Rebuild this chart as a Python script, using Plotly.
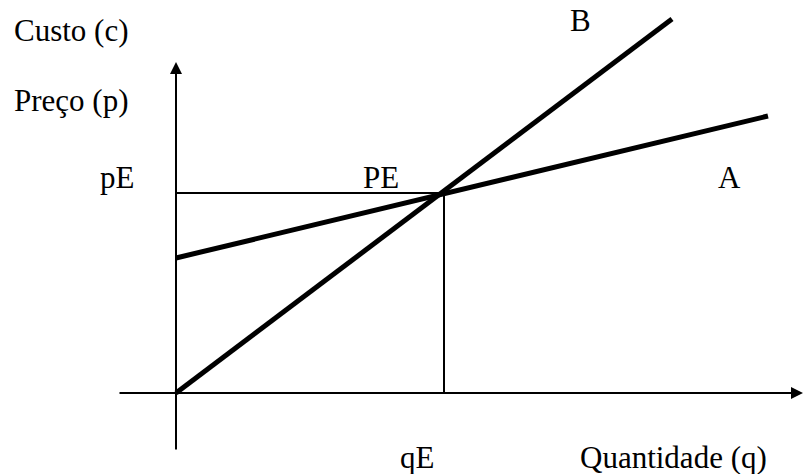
import plotly.graph_objects as go

# Data (units roughly proportional to picture)
q_B = [0, 496]
c_B = [0, 374]
q_A = [0, 592]
c_A = [135, 277]
qE = 268
pE = 200

# axis extents
x_axis = [-58, 627]
y_axis = [-58, 331]

fig = go.Figure()
FONT = dict(family="Liberation Serif, Times New Roman, serif", size=31, color="black")

# thin guide lines for equilibrium
fig.add_trace(go.Scatter(x=[0, qE], y=[pE, pE], mode="lines",
                         line=dict(color="black", width=2), hoverinfo="skip"))
fig.add_trace(go.Scatter(x=[qE, qE], y=[pE, 0], mode="lines",
                         line=dict(color="black", width=2), hoverinfo="skip"))
# main lines
fig.add_trace(go.Scatter(x=q_A, y=c_A, mode="lines",
                         line=dict(color="black", width=5), hoverinfo="skip"))
fig.add_trace(go.Scatter(x=q_B, y=c_B, mode="lines",
                         line=dict(color="black", width=5), hoverinfo="skip"))

annotations = []
# axes with arrows
annotations.append(dict(x=0, y=y_axis[1], ax=0, ay=y_axis[0], xref="x", yref="y",
                        axref="x", ayref="y", text="", showarrow=True,
                        arrowhead=2, arrowsize=1.2, arrowwidth=2, arrowcolor="black", standoff=0))
annotations.append(dict(x=x_axis[1], y=0, ax=x_axis[0], ay=0, xref="x", yref="y",
                        axref="x", ayref="y", text="", showarrow=True,
                        arrowhead=2, arrowsize=1.2, arrowwidth=2, arrowcolor="black", standoff=0))

labels = [
    ("Custo (c)", -164, 363, "left"),
    ("Preço (p)", -164, 293, "left"),
    ("pE", -59, 216, "center"),
    ("PE", 205, 216, "center"),
    ("A", 553, 216, "center"),
    ("B", 404, 373, "center"),
    ("qE", 241, -64, "center"),
    ("Quantidade (q)", 497, -64, "center"),
]
for txt, x, y, anc in labels:
    annotations.append(dict(x=x, y=y, xref="x", yref="y", text=txt, showarrow=False,
                            xanchor=anc, yanchor="middle", font=FONT))

fig.update_layout(
    width=805, height=474,
    margin=dict(l=0, r=0, t=0, b=0),
    paper_bgcolor="white", plot_bgcolor="white",
    showlegend=False,
    annotations=annotations,
    xaxis=dict(range=[-176, 629], visible=False, fixedrange=True),
    yaxis=dict(range=[-81, 393], visible=False, fixedrange=True),
)

fig.write_html("out.html",
               post_script="document.body.style.margin='0';document.body.style.overflow='hidden';",
               config={"displayModeBar": False})
